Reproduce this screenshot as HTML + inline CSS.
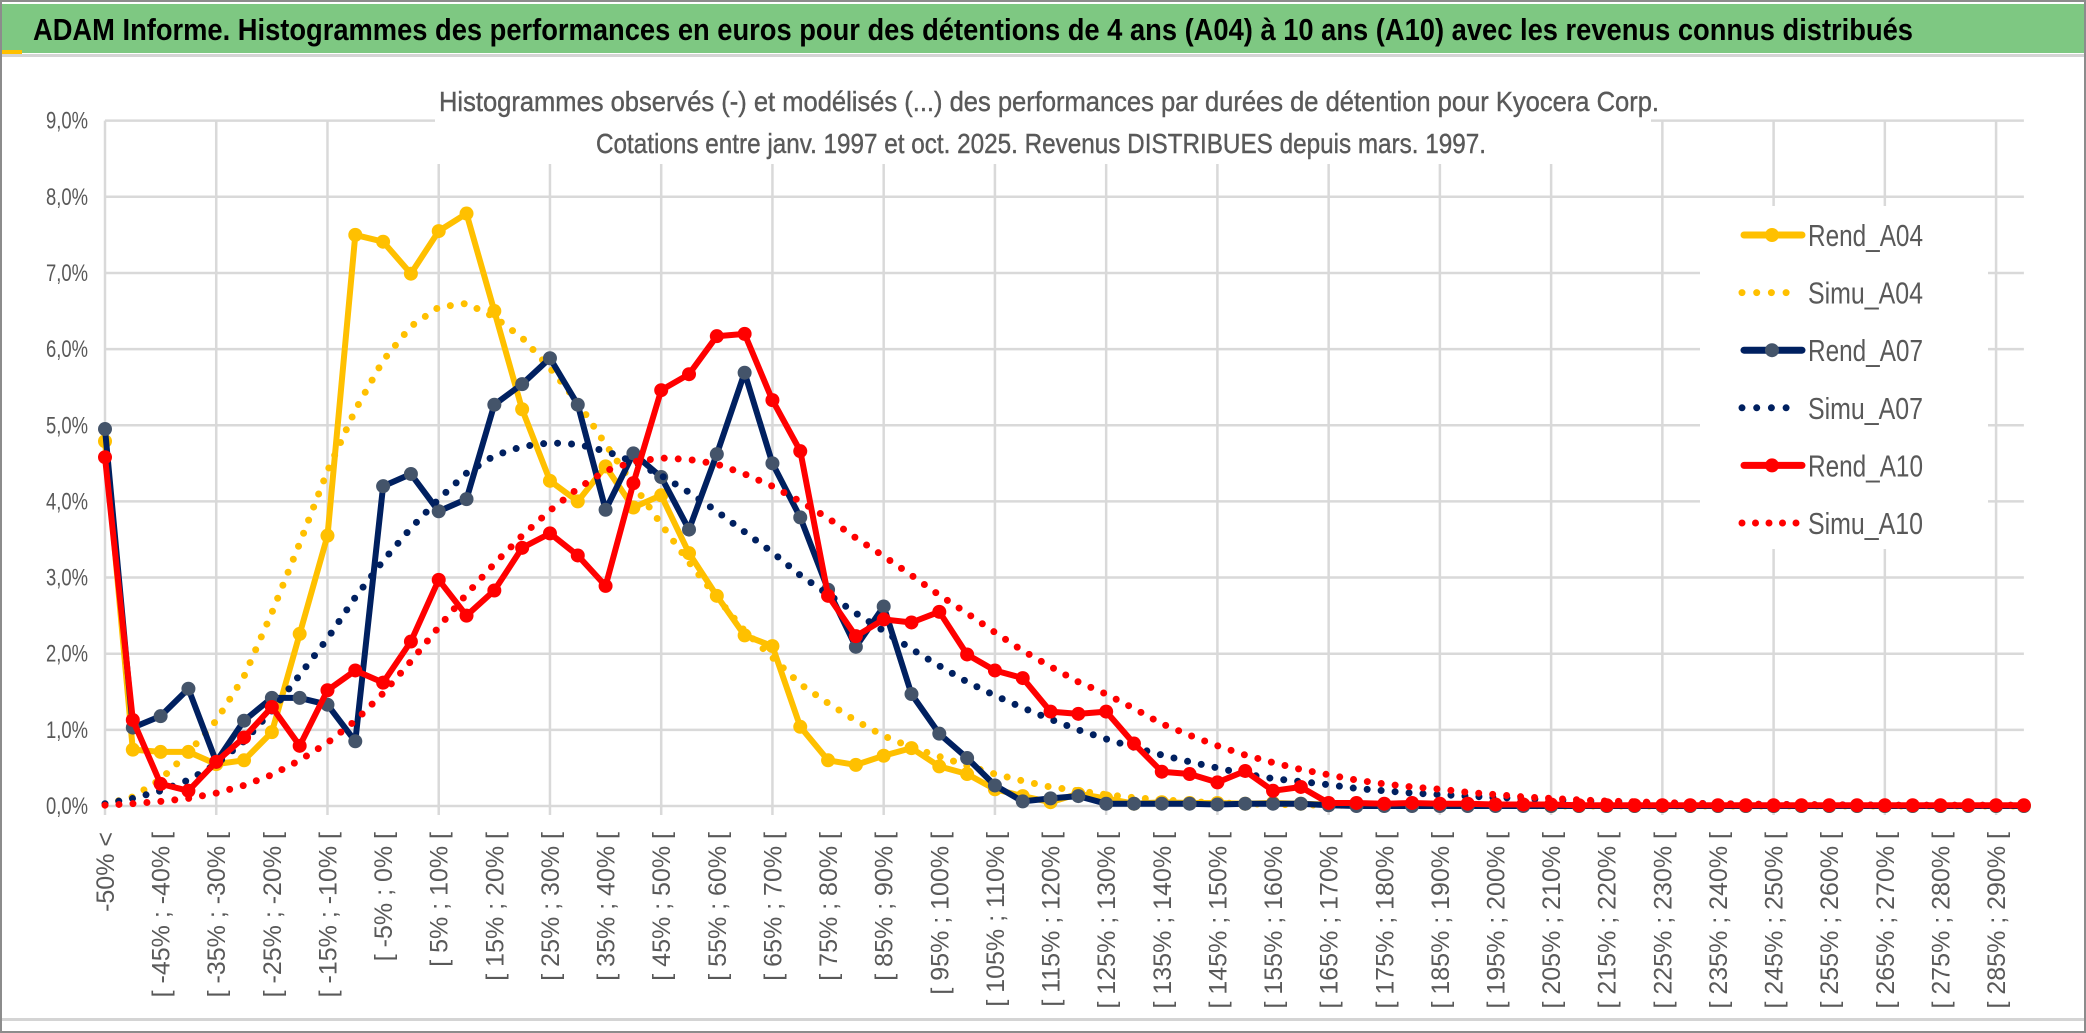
<!DOCTYPE html>
<html><head><meta charset="utf-8"><style>
html,body{margin:0;padding:0;background:#fff;}
svg{display:block;}
text{font-family:"Liberation Sans",sans-serif;}
</style></head><body>
<svg id="chart" width="2086" height="1033" viewBox="0 0 2086 1033" xmlns="http://www.w3.org/2000/svg">
  <rect x="0" y="0" width="2086" height="1033" fill="#fff"/>
  <rect x="1" y="1" width="2084" height="1031" fill="none" stroke="#8c8c8c" stroke-width="2"/>
  <rect x="2" y="4" width="2082" height="49" fill="#7ec882"/>
  <rect x="2" y="54" width="2082" height="3" fill="#d4d4d4"/>
  <rect x="2" y="50" width="20" height="4" fill="#ffc000"/>
  <rect x="2" y="1018" width="2082" height="3" fill="#d4d4d4"/>
  <text x="33" y="40" font-size="31" font-weight="bold" fill="#000" textLength="1880" lengthAdjust="spacingAndGlyphs">ADAM Informe. Histogrammes des performances en euros pour des détentions de 4 ans (A04) à 10 ans (A10) avec les revenus connus distribués</text>
  <g id="grid"></g>
  <rect x="435" y="100" width="1216" height="64" fill="#fff"/>
  <text x="439" y="111" font-size="28" fill="#595959" stroke="#595959" stroke-width="0.4" textLength="1220" lengthAdjust="spacingAndGlyphs">Histogrammes observés (-) et modélisés (...) des performances par durées de détention pour Kyocera Corp.</text>
  <text x="596" y="153" font-size="28" fill="#595959" stroke="#595959" stroke-width="0.4" textLength="890" lengthAdjust="spacingAndGlyphs">Cotations entre janv. 1997 et oct. 2025. Revenus DISTRIBUES depuis mars. 1997.</text>
  <g id="yaxis"></g>
  <g id="xaxis"></g>
  <g id="series"></g>
  <g id="legend"></g>
</svg>
<script>
const rendA04 = [4.79,0.74,0.71,0.71,0.55,0.6,0.97,2.26,3.55,7.5,
7.41,6.99,7.55,7.78,6.5,5.21,4.27,4.0,4.46,3.92,
4.08,3.32,2.76,2.24,2.1,1.04,0.6,0.54,0.66,0.76,
0.52,0.42,0.22,0.13,0.05,0.16,0.1,0.03,0.05,0.04,
0.04,0.03,0.04,0.03,0.02,0.01,0.01,0.01,0.01,0.01,
0.01,0.01,0,0,0,0,0,0,0,0,
0,0,0,0,0,0,0,0,0,0];
const simuA04 = [0.02,0.12,0.35,0.7,1.12,1.7,2.54,3.45,4.4,5.2,
5.85,6.3,6.55,6.6,6.42,6.15,5.75,5.3,4.75,4.22,
3.7,3.2,2.74,2.3,1.95,1.6,1.35,1.12,0.92,0.77,
0.65,0.53,0.42,0.33,0.25,0.2,0.15,0.11,0.08,0.06,
0.04,0.03,0.02,0.015,0.01,0.01,0.01,0.01,0.01,0.01,
0.005,0.005,0,0,0,0,0,0,0,0,
0,0,0,0,0,0,0,0,0,0];
const rendA07 = [4.95,1.03,1.18,1.54,0.58,1.12,1.42,1.42,1.33,0.85,
4.2,4.36,3.87,4.03,5.27,5.54,5.88,5.27,3.89,4.63,
4.32,3.63,4.62,5.69,4.5,3.79,2.84,2.09,2.62,1.47,
0.95,0.63,0.27,0.06,0.1,0.13,0.03,0.03,0.03,0.03,
0.02,0.03,0.03,0.03,0.01,0,0,0,0,0,
0,0,0,0,0,0,0,0,0,0,
0,0,0,0,0,0,0,0,0,0];
const simuA07 = [0.03,0.1,0.2,0.34,0.55,0.85,1.25,1.72,2.2,2.74,
3.22,3.65,4.03,4.37,4.6,4.72,4.77,4.75,4.66,4.52,
4.34,4.12,3.87,3.6,3.33,3.03,2.78,2.53,2.3,2.06,
1.84,1.63,1.45,1.29,1.14,1.0,0.88,0.77,0.67,0.58,
0.5,0.42,0.36,0.32,0.28,0.23,0.2,0.17,0.15,0.13,
0.11,0.1,0.08,0.07,0.06,0.05,0.04,0.035,0.03,0.025,
0.02,0.02,0.015,0.015,0.01,0.01,0.01,0.01,0.01,0.01];
const rendA10 = [4.58,1.13,0.29,0.2,0.58,0.9,1.3,0.79,1.52,1.78,
1.62,2.16,2.97,2.5,2.83,3.39,3.58,3.29,2.89,4.24,
5.46,5.67,6.17,6.2,5.33,4.66,2.76,2.23,2.45,2.41,
2.55,1.99,1.78,1.68,1.24,1.21,1.24,0.82,0.45,0.42,
0.31,0.46,0.2,0.25,0.04,0.04,0.03,0.04,0.03,0.03,
0.02,0.02,0.02,0.01,0.01,0.01,0.01,0.01,0.01,0.01,
0.01,0.01,0.01,0.01,0.01,0.01,0.01,0.01,0.01,0.01];
const simuA10 = [0.01,0.03,0.06,0.1,0.17,0.27,0.41,0.6,0.83,1.12,
1.48,1.9,2.35,2.78,3.18,3.55,3.88,4.17,4.4,4.52,
4.57,4.55,4.49,4.36,4.2,4.0,3.78,3.52,3.28,3.03,
2.77,2.53,2.28,2.04,1.83,1.63,1.47,1.28,1.08,0.93,
0.79,0.67,0.57,0.48,0.41,0.34,0.29,0.25,0.22,0.18,
0.15,0.12,0.1,0.08,0.065,0.055,0.045,0.035,0.03,0.025,
0.02,0.02,0.015,0.015,0.01,0.01,0.01,0.01,0.01,0.01];
const yTicks = [0,1,2,3,4,5,6,7,8,9];
const yTickLabels = ["0,0%","1,0%","2,0%","3,0%","4,0%","5,0%","6,0%","7,0%","8,0%","9,0%"];
const seriesNames = ["Rend_A04","Simu_A04","Rend_A07","Simu_A07","Rend_A10","Simu_A10"];

const NS = "http://www.w3.org/2000/svg";
const X0 = 105, STEP = 27.81, Y0 = 806, YU = 76.15;
const nCat = rendA04.length;
function catLabel(i){ if(i===0) return "-50% <"; return "[ " + (-55+5*i) + "% ; " + (-50+5*i) + "% ["; }
function xs(i){ return X0 + i*STEP; }
function ys(v){ return Y0 - v*YU; }
function mk(tag, attrs, parent){ const e=document.createElementNS(NS,tag); for(const k in attrs) e.setAttribute(k,attrs[k]); parent.appendChild(e); return e; }
const xEnd = xs(nCat-1);

const grid = document.getElementById('grid');
yTicks.forEach((t)=>{
  const l = mk('line',{x1:X0,x2:xEnd,y1:ys(t),y2:ys(t),stroke:'#d9d9d9','stroke-width':2.5},grid);
  
  
});
for(let i=0;i<nCat;i+=4){
  const l = mk('line',{x1:xs(i),x2:xs(i),y1:ys(9),y2:Y0+9,stroke:'#d9d9d9','stroke-width':2.5},grid);
  
  
}

const ya = document.getElementById('yaxis');
yTicks.forEach((t,k)=>{
  const tx = mk('text',{x:88,y:ys(t)+8,'font-size':24,fill:'#595959','text-anchor':'end',textLength:42,lengthAdjust:'spacingAndGlyphs'},ya);
  tx.textContent = yTickLabels[k];
  
  
});

const xa = document.getElementById('xaxis');
for(let i=0;i<nCat;i+=2){
  const lx = xs(i)+9, ly = 832;
  const tx = mk('text',{x:lx,y:ly,'font-size':25,fill:'#595959','text-anchor':'end',transform:'rotate(-90 '+lx+' '+ly+')'},xa);
  tx.textContent = catLabel(i);
  
  
}

const sg = document.getElementById('series');
function pts(arr){ return arr.map((v,i)=>xs(i).toFixed(1)+','+ys(v).toFixed(1)).join(' '); }
function drawRend(arr,color,mcolor,name){
  const g = mk('g',{},sg);
  
  
  const p = mk('polyline',{points:pts(arr),fill:'none',stroke:color,'stroke-width':6,'stroke-linejoin':'round'},g);
  
  
  arr.forEach((v,i)=>{
    const c = mk('circle',{cx:xs(i),cy:ys(v),r:7,fill:mcolor},g);
    
    
  });
}
function drawSimu(arr,color,name){
  const p = mk('polyline',{points:pts(arr),fill:'none',stroke:color,'stroke-width':7,'stroke-linecap':'round','stroke-dasharray':'0 14'},sg);
  
  
}
drawRend(rendA04,'#ffc000','#ffc000','rend-a04');
drawSimu(simuA04,'#ffc000','simu-a04');
drawRend(rendA07,'#002060','#44546a','rend-a07');
drawSimu(simuA07,'#002060','simu-a07');
drawRend(rendA10,'#ff0000','#ff0000','rend-a10');
drawSimu(simuA10,'#ff0000','simu-a10');

const lg = document.getElementById('legend');
const box = mk('rect',{x:1700,y:206,width:288,height:343,fill:'#fff'},lg);


const legColors = ['#ffc000','#ffc000','#002060','#002060','#ff0000','#ff0000'];
const legMarker = ['#ffc000',null,'#44546a',null,'#ff0000',null];
seriesNames.forEach((nm,k)=>{
  const cy = 235 + k*57.6;
  const g = mk('g',{},lg);
  
  
  if(legMarker[k]){
    mk('line',{x1:1744,x2:1802,y1:cy,y2:cy,stroke:legColors[k],'stroke-width':7,'stroke-linecap':'round'},g);
    mk('circle',{cx:1772,cy:cy,r:7,fill:legMarker[k]},g);
  } else {
    mk('line',{x1:1742,x2:(k===5?1802:1790),y1:cy,y2:cy,stroke:legColors[k],'stroke-width':7,'stroke-linecap':'round','stroke-dasharray':(k===5?'0 13.5':'0 14.7')},g);
  }
  const t = mk('text',{x:1808,y:cy+11,'font-size':31,fill:'#595959',textLength:115,lengthAdjust:'spacingAndGlyphs'},g);
  t.textContent = nm;
});
</script>
</body></html>
